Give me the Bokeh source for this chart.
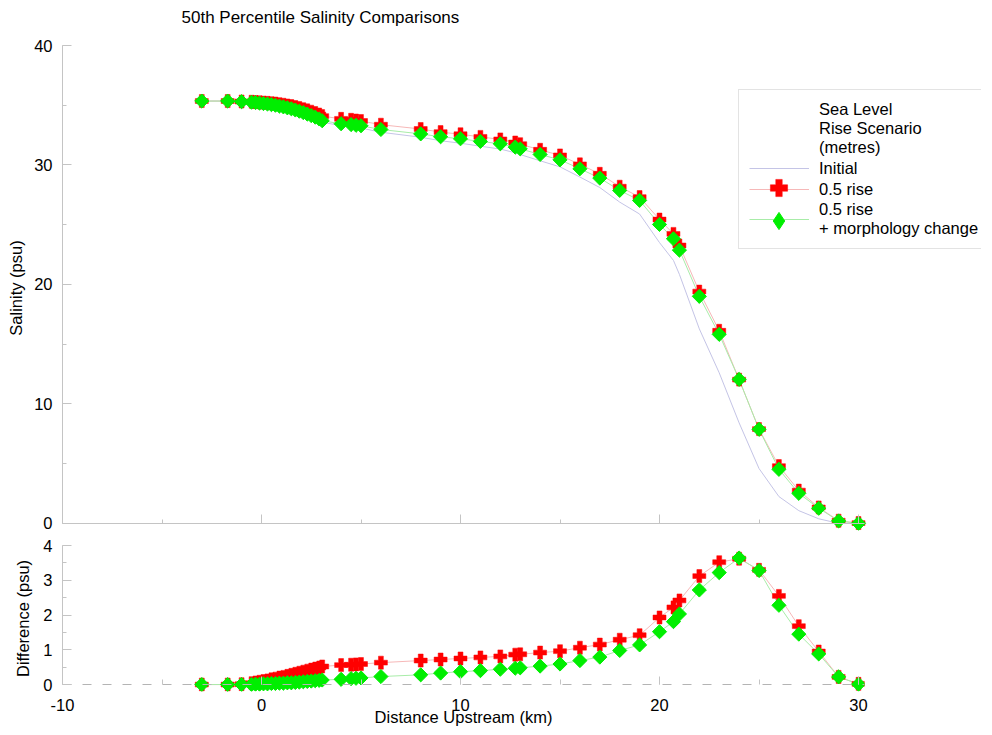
from bokeh.plotting import figure
from bokeh.models import (Range1d, SingleIntervalTicker, Legend, LegendItem,
                          CustomJSTickFormatter, PrintfTickFormatter,
                          ColumnDataSource, LinearAxis, CDSView, IndexFilter)
from bokeh.layouts import column
from bokeh.embed import file_html
from bokeh.resources import INLINE

FONT = "Liberation Sans"
FS = "16.5px"
AXIS_COLOR = "#c4c4c4"

# Distance upstream of each station (km)
distance = [-3, -1.7, -1, -0.5, -0.3, -0.1, 0.1, 0.3, 0.5, 0.7, 0.9, 1.1, 1.3, 1.5,
            1.7, 1.9, 2.1, 2.3, 2.5, 2.7, 2.9, 3.05, 4, 4.5, 4.75, 5, 6, 8, 9, 10,
            11, 12, 12.75, 13, 14, 15, 16, 17, 18, 19, 20, 20.7, 21, 22, 23, 24,
            25, 26, 27, 28, 29, 30]

# 50th percentile salinity (psu)
sal_initial = [35.35, 35.35, 35.3, 35.25, 35.21, 35.17, 35.12, 35.08, 35.02, 34.97,
               34.89, 34.82, 34.73, 34.65, 34.54, 34.43, 34.30, 34.17, 34.03, 33.89,
               33.73, 33.57, 33.30, 33.21, 33.14, 33.09, 32.74, 32.32, 32.03, 31.82,
               31.57, 31.33, 31.02, 30.87, 30.35, 29.84, 28.99, 28.11, 26.89, 25.89,
               23.50, 22.01, 20.84, 16.28, 12.60, 8.41, 4.59, 2.24, 1.06, 0.38, 0.0, 0.0]
sal_rise = [35.35, 35.35, 35.31, 35.29, 35.27, 35.25, 35.22, 35.20, 35.17, 35.14,
            35.09, 35.04, 34.98, 34.93, 34.85, 34.77, 34.67, 34.57, 34.46, 34.35,
            34.22, 34.09, 33.86, 33.78, 33.72, 33.68, 33.37, 33.01, 32.75, 32.57,
            32.35, 32.14, 31.88, 31.74, 31.27, 30.80, 30.05, 29.26, 28.18, 27.31,
            25.43, 24.23, 23.26, 19.40, 16.12, 12.03, 7.89, 4.79, 2.74, 1.33, 0.22, 0.02]
sal_rise_morph = [35.35, 35.35, 35.3, 35.25, 35.22, 35.18, 35.14, 35.1, 35.05, 35.0,
                  34.93, 34.86, 34.78, 34.7, 34.6, 34.5, 34.38, 34.26, 34.13, 34.0,
                  33.85, 33.7, 33.45, 33.38, 33.32, 33.28, 32.97, 32.6, 32.36, 32.19,
                  31.97, 31.77, 31.49, 31.35, 30.88, 30.43, 29.68, 28.9, 27.87, 27.03,
                  25.02, 23.82, 22.87, 19.0, 15.82, 12.05, 7.87, 4.52, 2.51, 1.26, 0.2, 0.0]

# Difference from initial (psu)
diff_rise = [0.0, 0.0, 0.01, 0.04, 0.06, 0.08, 0.10, 0.12, 0.15, 0.17, 0.20, 0.22,
             0.25, 0.28, 0.31, 0.34, 0.37, 0.40, 0.43, 0.46, 0.49, 0.52, 0.56, 0.57,
             0.58, 0.59, 0.63, 0.69, 0.72, 0.75, 0.78, 0.81, 0.86, 0.87, 0.92, 0.96,
             1.06, 1.15, 1.29, 1.42, 1.93, 2.22, 2.42, 3.12, 3.52, 3.62, 3.30, 2.55,
             1.68, 0.95, 0.22, 0.02]
diff_rise_morph = [0.0, 0.0, 0.0, 0.0, 0.01, 0.01, 0.02, 0.02, 0.03, 0.03, 0.04, 0.04,
                   0.05, 0.05, 0.06, 0.07, 0.08, 0.09, 0.10, 0.11, 0.12, 0.13, 0.15,
                   0.17, 0.18, 0.19, 0.23, 0.28, 0.33, 0.37, 0.40, 0.44, 0.47, 0.48,
                   0.53, 0.59, 0.69, 0.79, 0.98, 1.14, 1.52, 1.81, 2.03, 2.72, 3.22,
                   3.64, 3.28, 2.28, 1.45, 0.88, 0.22, 0.01]

title_text = "50th Percentile Salinity Comparisons"
legend_title = "Sea Level\nRise Scenario\n(metres)"
legend_labels = ["Initial", "0.5 rise", "0.5 rise\n+ morphology change"]

RED = "#ff0000"
GREEN = "#00ee00"
RED_LINE = "#f6b8b8"
GREEN_LINE = "#a8eca8"
INIT_LINE = "#c4c4e6"

X_END = 30.3  # right end of the drawn axes
LEFT = 62
FW = 919      # top-panel frame (room for the legend)
FW2 = 802     # bottom-panel frame: -10 .. 30.3 km

src = ColumnDataSource(dict(x=distance, si=sal_initial, sr=sal_rise, sg=sal_rise_morph,
                            dr=diff_rise, dg=diff_rise_morph))


def style_axis(ax):
    ax.axis_line_color = AXIS_COLOR
    ax.major_tick_line_color = AXIS_COLOR
    ax.minor_tick_line_color = AXIS_COLOR
    ax.major_tick_in = 9
    ax.major_tick_out = 0
    ax.minor_tick_in = 4
    ax.minor_tick_out = 0
    ax.major_label_text_font = FONT
    ax.major_label_text_font_size = FS
    ax.major_label_text_color = "#000000"
    ax.axis_label_text_font = FONT
    ax.axis_label_text_font_size = FS
    ax.axis_label_text_font_style = "normal"
    ax.axis_label_text_color = "#000000"


xr = Range1d(-10, 36.18)

# ---------------- title strip ----------------
p0 = figure(frame_width=FW, frame_height=1, x_range=xr, y_range=Range1d(0, 1),
            x_axis_location=None, y_axis_location=None,
            output_backend="svg", toolbar_location=None,
            min_border_left=LEFT, min_border_right=0, min_border_top=27,
            min_border_bottom=0, title=title_text)
p0.grid.visible = False
p0.outline_line_color = None
p0.title.text_font = FONT
p0.title.text_font_size = "17px"
p0.title.text_font_style = "normal"
p0.title.text_color = "#000000"
p0.title.align = "left"
p0.title.offset = 119
p0.title.standoff = 2

# ---------------- top panel ----------------
p1 = figure(frame_width=FW, frame_height=485,
            x_range=xr, y_range=Range1d(-0.6, 40),
            x_axis_location=None, y_axis_location=None,
            output_backend="svg", toolbar_location=None,
            min_border_left=LEFT, min_border_right=0, min_border_top=17,
            min_border_bottom=3)
p1.grid.visible = False
p1.outline_line_color = None

yax1 = LinearAxis(ticker=SingleIntervalTicker(interval=10, num_minor_ticks=2),
                  bounds=(0, 40), axis_label="Salinity (psu)")
style_axis(yax1)
yax1.major_label_standoff = 10
yax1.axis_label_standoff = 6
p1.add_layout(yax1, "left")

xax1 = LinearAxis(ticker=SingleIntervalTicker(interval=10, num_minor_ticks=2),
                  fixed_location=0, bounds=(-10, X_END),
                  formatter=CustomJSTickFormatter(code="return ''"))
style_axis(xax1)
xax1.major_label_text_font_size = "0px"
xax1.major_label_standoff = 0
p1.add_layout(xax1, "below")

r_init = p1.line("x", "si", source=src, line_color=INIT_LINE, line_width=1)
r_red_l = p1.line("x", "sr", source=src, line_color=RED_LINE, line_width=1)
r_grn_l = p1.line("x", "sg", source=src, line_color=GREEN_LINE, line_width=1)
r_red_m = p1.scatter("x", "sr", source=src, marker="plus", size=13,
                     fill_color=RED, line_color=RED, line_width=0.5)
# diamond symbol used for the legend; its one point sits under the last marker
r_grn_sym = p1.scatter("x", "sg", source=src, marker="diamond", size=12,
                       view=CDSView(filter=IndexFilter(indices=[len(distance) - 1])),
                       line_color=GREEN, fill_color=GREEN, line_width=1)
r_grn_m = p1.scatter("x", "sg", source=src, marker="square", angle=0.785398, size=10,
                     line_color=GREEN, fill_color=GREEN, line_width=1)

legend = Legend(items=[
    LegendItem(label=legend_title, renderers=[]),
    LegendItem(label=legend_labels[0], renderers=[r_init]),
    LegendItem(label=legend_labels[1], renderers=[r_red_l]),
    LegendItem(label=legend_labels[2], renderers=[r_grn_l]),
], location=(676, 281))
legend.label_text_font = FONT
legend.label_text_font_size = FS
legend.label_text_color = "#000000"
legend.glyph_width = 60
legend.glyph_height = 20
legend.label_standoff = 10
legend.padding = 10
legend.spacing = 1
legend.margin = 0
legend.border_line_color = "#c8c8c8"
legend.border_line_width = 1
legend.background_fill_color = "white"
legend.background_fill_alpha = 1.0
p1.add_layout(legend, "center")


def symbol_legend(renderer, loc):
    lg = Legend(items=[LegendItem(label="", renderers=[renderer])], location=loc)
    lg.glyph_width = 43
    lg.glyph_height = 43
    lg.padding = 0
    lg.margin = 0
    lg.spacing = 0
    lg.label_standoff = 0
    lg.label_text_font_size = "1px"
    lg.border_line_alpha = 0
    lg.background_fill_alpha = 0
    return lg


p1.add_layout(symbol_legend(r_red_m, (694.5, 321.5)), "center")
p1.add_layout(symbol_legend(r_grn_sym, (694.5, 288.5)), "center")

# ---------------- bottom panel ----------------
p2 = figure(frame_width=FW2, frame_height=146,
            x_range=Range1d(-10, X_END), y_range=Range1d(-0.2, 4),
            x_axis_location=None, y_axis_location=None,
            output_backend="svg", toolbar_location=None,
            min_border_left=LEFT, min_border_right=FW - FW2, min_border_top=12,
            min_border_bottom=0)
p2.grid.visible = False
p2.outline_line_color = None

yax2 = LinearAxis(ticker=SingleIntervalTicker(interval=1, num_minor_ticks=2),
                  bounds=(0, 4), axis_label="Difference (psu)")
style_axis(yax2)
yax2.major_label_standoff = 10
yax2.axis_label_standoff = 8
p2.add_layout(yax2, "left")

# axis line (dashed) and ticks along zero
xax2 = LinearAxis(ticker=SingleIntervalTicker(interval=10, num_minor_ticks=2),
                  fixed_location=0,
                  formatter=CustomJSTickFormatter(code="return ''"))
style_axis(xax2)
xax2.axis_line_dash = "9 11"
xax2.axis_line_color = "#b4b4b4"
xax2.major_tick_in = 8
xax2.minor_tick_in = 5
xax2.major_label_text_font_size = "0px"
xax2.major_label_standoff = 0
p2.add_layout(xax2, "below")

# tick labels and title of the distance axis
xlab2 = LinearAxis(ticker=SingleIntervalTicker(interval=10, num_minor_ticks=0),
                   formatter=PrintfTickFormatter(format="%d"),
                   axis_label="Distance Upstream (km)")
style_axis(xlab2)
xlab2.axis_line_alpha = 0
xlab2.major_tick_in = 0
xlab2.minor_tick_in = 0
xlab2.major_label_standoff = 7
xlab2.axis_label_standoff = -6
p2.add_layout(xlab2, "below")

p2.line("x", "dr", source=src, line_color=RED_LINE, line_width=1)
p2.line("x", "dg", source=src, line_color=GREEN_LINE, line_width=1)
p2.scatter("x", "dr", source=src, marker="plus", size=13, fill_color=RED,
           line_color=RED, line_width=0.5)
p2.scatter("x", "dg", source=src, marker="square", angle=0.785398, size=10,
           line_color=GREEN, fill_color=GREEN, line_width=1)

layout = column(p0, p1, p2, spacing=0)
open("out.html", "w").write(file_html(layout, INLINE))
